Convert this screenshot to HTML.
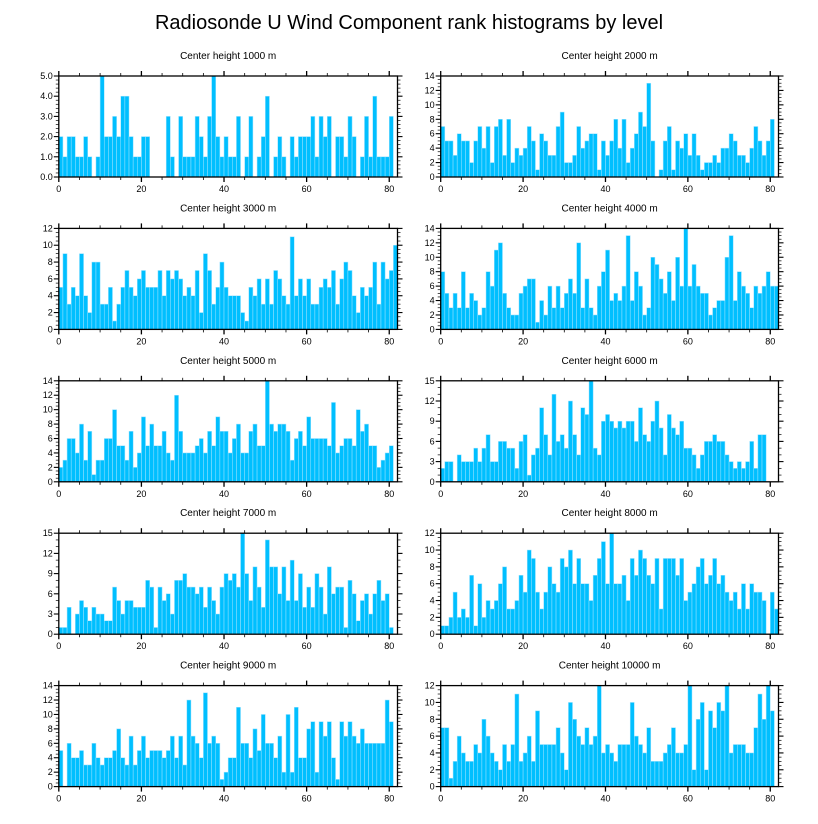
<!DOCTYPE html>
<html><head><meta charset="utf-8"><style>
html,body{margin:0;padding:0;background:#fff;}
svg{display:block;font-family:"Liberation Sans",sans-serif;}
</style></head><body>
<svg id="chart" width="818" height="824" viewBox="0 0 818 824">
<text x="409" y="29" text-anchor="middle" font-size="20">Radiosonde U Wind Component rank histograms by level</text>
</svg>
<script>
const titles = ["Center height 1000 m","Center height 2000 m","Center height 3000 m","Center height 4000 m","Center height 5000 m","Center height 6000 m","Center height 7000 m","Center height 8000 m","Center height 9000 m","Center height 10000 m"];
const yMaxes = [5,14,12,14,14,15,15,12,14,12];
const yStepsData = [1,2,2,2,2,3,3,2,2,2];
const xTicks = [0,20,40,60,80];
const counts1000 = [2,1,2,2,1,1,2,1,0,1,5,2,2,3,2,4,4,2,1,1,2,2,0,0,0,0,3,1,0,3,1,1,1,3,2,1,3,5,2,1,2,1,1,3,0,1,3,0,1,2,4,0,1,2,1,0,2,1,2,2,2,3,1,3,2,3,0,2,2,1,3,2,0,1,3,1,4,1,1,1,3];
const counts2000 = [7,5,5,3,6,5,5,2,5,7,4,7,2,7,8,3,8,2,4,3,4,7,5,1,6,5,3,3,7,9,2,2,3,7,4,5,6,6,1,5,3,5,8,4,8,2,4,6,9,7,13,5,0,1,5,7,1,5,4,6,3,6,3,1,2,2,3,2,4,4,6,5,3,3,2,4,7,5,3,5,8];
const counts3000 = [5,9,3,5,4,9,4,2,8,8,3,3,5,1,3,5,7,5,4,6,7,5,5,5,7,4,7,6,7,6,4,5,4,7,2,9,7,3,5,8,5,4,4,4,2,1,5,4,6,3,6,3,7,6,4,3,11,4,6,4,6,3,3,5,6,5,7,3,6,8,7,4,2,5,4,5,8,3,8,6,7,10];
const counts4000 = [8,5,3,5,3,8,3,5,4,2,3,8,6,11,12,5,3,2,2,5,6,7,7,1,4,2,6,3,6,3,5,7,5,12,3,7,3,2,6,8,11,4,5,4,6,13,4,8,6,2,3,10,9,7,5,8,4,10,6,14,6,9,6,5,5,2,3,4,4,10,13,4,8,6,5,3,6,5,6,8,6,6];
const counts5000 = [2,3,6,6,4,8,3,7,1,3,3,6,6,10,5,5,3,7,2,4,9,5,8,5,5,7,4,3,12,7,4,4,4,5,6,4,7,5,9,7,7,4,6,8,4,4,7,8,5,5,14,8,7,8,8,7,3,6,7,5,9,6,6,6,6,5,11,4,5,6,6,5,10,7,8,5,5,2,3,4,5];
const counts6000 = [2,3,3,0,4,3,3,3,5,3,5,7,3,3,6,6,5,5,2,6,7,1,4,5,11,7,4,13,6,7,5,12,7,4,11,10,15,5,4,9,10,9,8,9,8,9,9,6,11,7,6,9,12,8,4,10,8,7,9,5,5,4,2,4,6,6,7,6,6,4,3,2,3,2,3,6,2,7,7,0,0];
const counts7000 = [1,1,4,0,3,5,4,2,4,3,3,2,2,7,5,3,5,5,4,4,4,8,7,1,7,5,6,3,8,8,9,7,7,6,7,4,7,5,3,7,9,8,9,7,15,9,5,10,7,4,14,10,10,6,10,5,11,5,9,4,7,4,9,7,3,10,6,7,7,1,8,6,2,5,6,3,6,8,5,6,1];
const counts8000 = [1,1,2,5,2,3,2,7,1,6,2,4,3,4,6,8,3,3,4,7,5,10,9,5,3,5,8,6,5,9,8,10,6,9,6,6,4,7,9,11,6,12,6,6,7,4,9,7,10,9,7,6,9,3,9,9,9,7,9,4,5,6,8,9,6,7,9,6,7,5,4,5,3,6,3,6,5,5,4,0,5,3];
const counts9000 = [5,0,6,4,4,5,3,3,6,4,3,4,4,5,8,4,3,7,3,5,7,4,5,5,5,4,5,7,4,7,3,12,7,6,4,13,6,7,6,1,2,4,4,11,6,6,4,8,5,10,6,6,4,7,2,10,2,11,4,4,8,9,2,9,7,9,4,1,9,7,9,7,6,8,6,6,6,6,6,12,9];
const counts10000 = [7,7,1,3,6,4,3,3,5,4,8,6,4,3,2,5,3,5,11,3,4,6,3,9,5,5,5,5,7,4,2,10,8,6,5,7,5,6,12,4,5,4,3,5,5,5,10,6,5,4,7,3,3,3,4,5,7,4,4,5,12,2,8,10,2,9,7,10,9,12,4,5,5,5,4,4,7,11,8,12,9];
const allCounts = [counts1000,counts2000,counts3000,counts4000,counts5000,counts6000,counts7000,counts8000,counts9000,counts10000];

const NS = "http://www.w3.org/2000/svg";
const svg = document.getElementById('chart');
function mk(tag, attrs, parent){
  const e = document.createElementNS(NS, tag);
  for (const k in attrs) e.setAttribute(k, attrs[k]);
  (parent||svg).appendChild(e);
  return e;
}
const XMAX = 82;
for (let p = 0; p < 10; p++) {
  const col = p % 2, row = Math.floor(p / 2);
  const L = col === 0 ? 58.8 : 440.7;
  const W = col === 0 ? 338.7 : 337.8;
  const T = 76 + row * 152.4;
  const H = 101;
  const ymax = yMaxes[p], ystep = yStepsData[p];
  const xs = v => L + v / XMAX * W;
  const ys = v => T + H - v / ymax * H;
  const g = mk('g', {});
  
  
  const t = mk('text', {x: L + W / 2, y: T - 17, 'text-anchor': 'middle', 'font-size': '10'}, g);
  
  
  t.textContent = titles[p];
  const data = allCounts[p];
  for (let i = 0; i < data.length; i++) {
    if (data[i] <= 0) continue;
    const r = mk('rect', {x: xs(i), y: ys(Math.min(data[i], ymax)), width: xs(i + 1) - xs(i), height: ys(0) - ys(Math.min(data[i], ymax)), fill: '#00bfff', stroke: '#9fe3ff', 'stroke-width': '0.5'}, g);
    
    
  }
  const f = mk('rect', {x: L, y: T, width: W, height: H, fill: 'none', stroke: '#000', 'stroke-width': '1.3'}, g);
  
  
  // x ticks
  for (let v = 0; v <= 80; v += 5) {
    const major = v % 20 === 0;
    const len = major ? 5 : 3;
    mk('line', {x1: xs(v), x2: xs(v), y1: T + H, y2: T + H + len, stroke: '#000', 'stroke-width': major ? 1.3 : 0.8}, g);
    mk('line', {x1: xs(v), x2: xs(v), y1: T, y2: T - len, stroke: '#000', 'stroke-width': major ? 1.3 : 0.8}, g);
  }
  xTicks.forEach(v => {
    const tl = mk('text', {x: xs(v), y: T + H + 15, 'text-anchor': 'middle', 'font-size': '9'}, g);
    
    
    tl.textContent = v;
  });
  // y ticks
  const minor = ystep / (ystep === 3 ? 3 : (ystep === 1 ? 5 : 4));
  for (let v = 0; v <= ymax + 1e-9; v += minor) {
    const isMajor = Math.abs(v / ystep - Math.round(v / ystep)) < 1e-6;
    const len = isMajor ? 5 : 3;
    mk('line', {x1: L, x2: L - len, y1: ys(v), y2: ys(v), stroke: '#000', 'stroke-width': isMajor ? 1.1 : 0.7}, g);
    mk('line', {x1: L + W, x2: L + W + len, y1: ys(v), y2: ys(v), stroke: '#000', 'stroke-width': isMajor ? 1.1 : 0.7}, g);
  }
  for (let v = 0; v <= ymax + 1e-9; v += ystep) {
    const yl = mk('text', {x: L - 6, y: ys(v) + 3, 'text-anchor': 'end', 'font-size': '9'}, g);
    
    
    yl.textContent = p === 0 ? v.toFixed(1) : v;
  }
}
</script>
</body></html>
